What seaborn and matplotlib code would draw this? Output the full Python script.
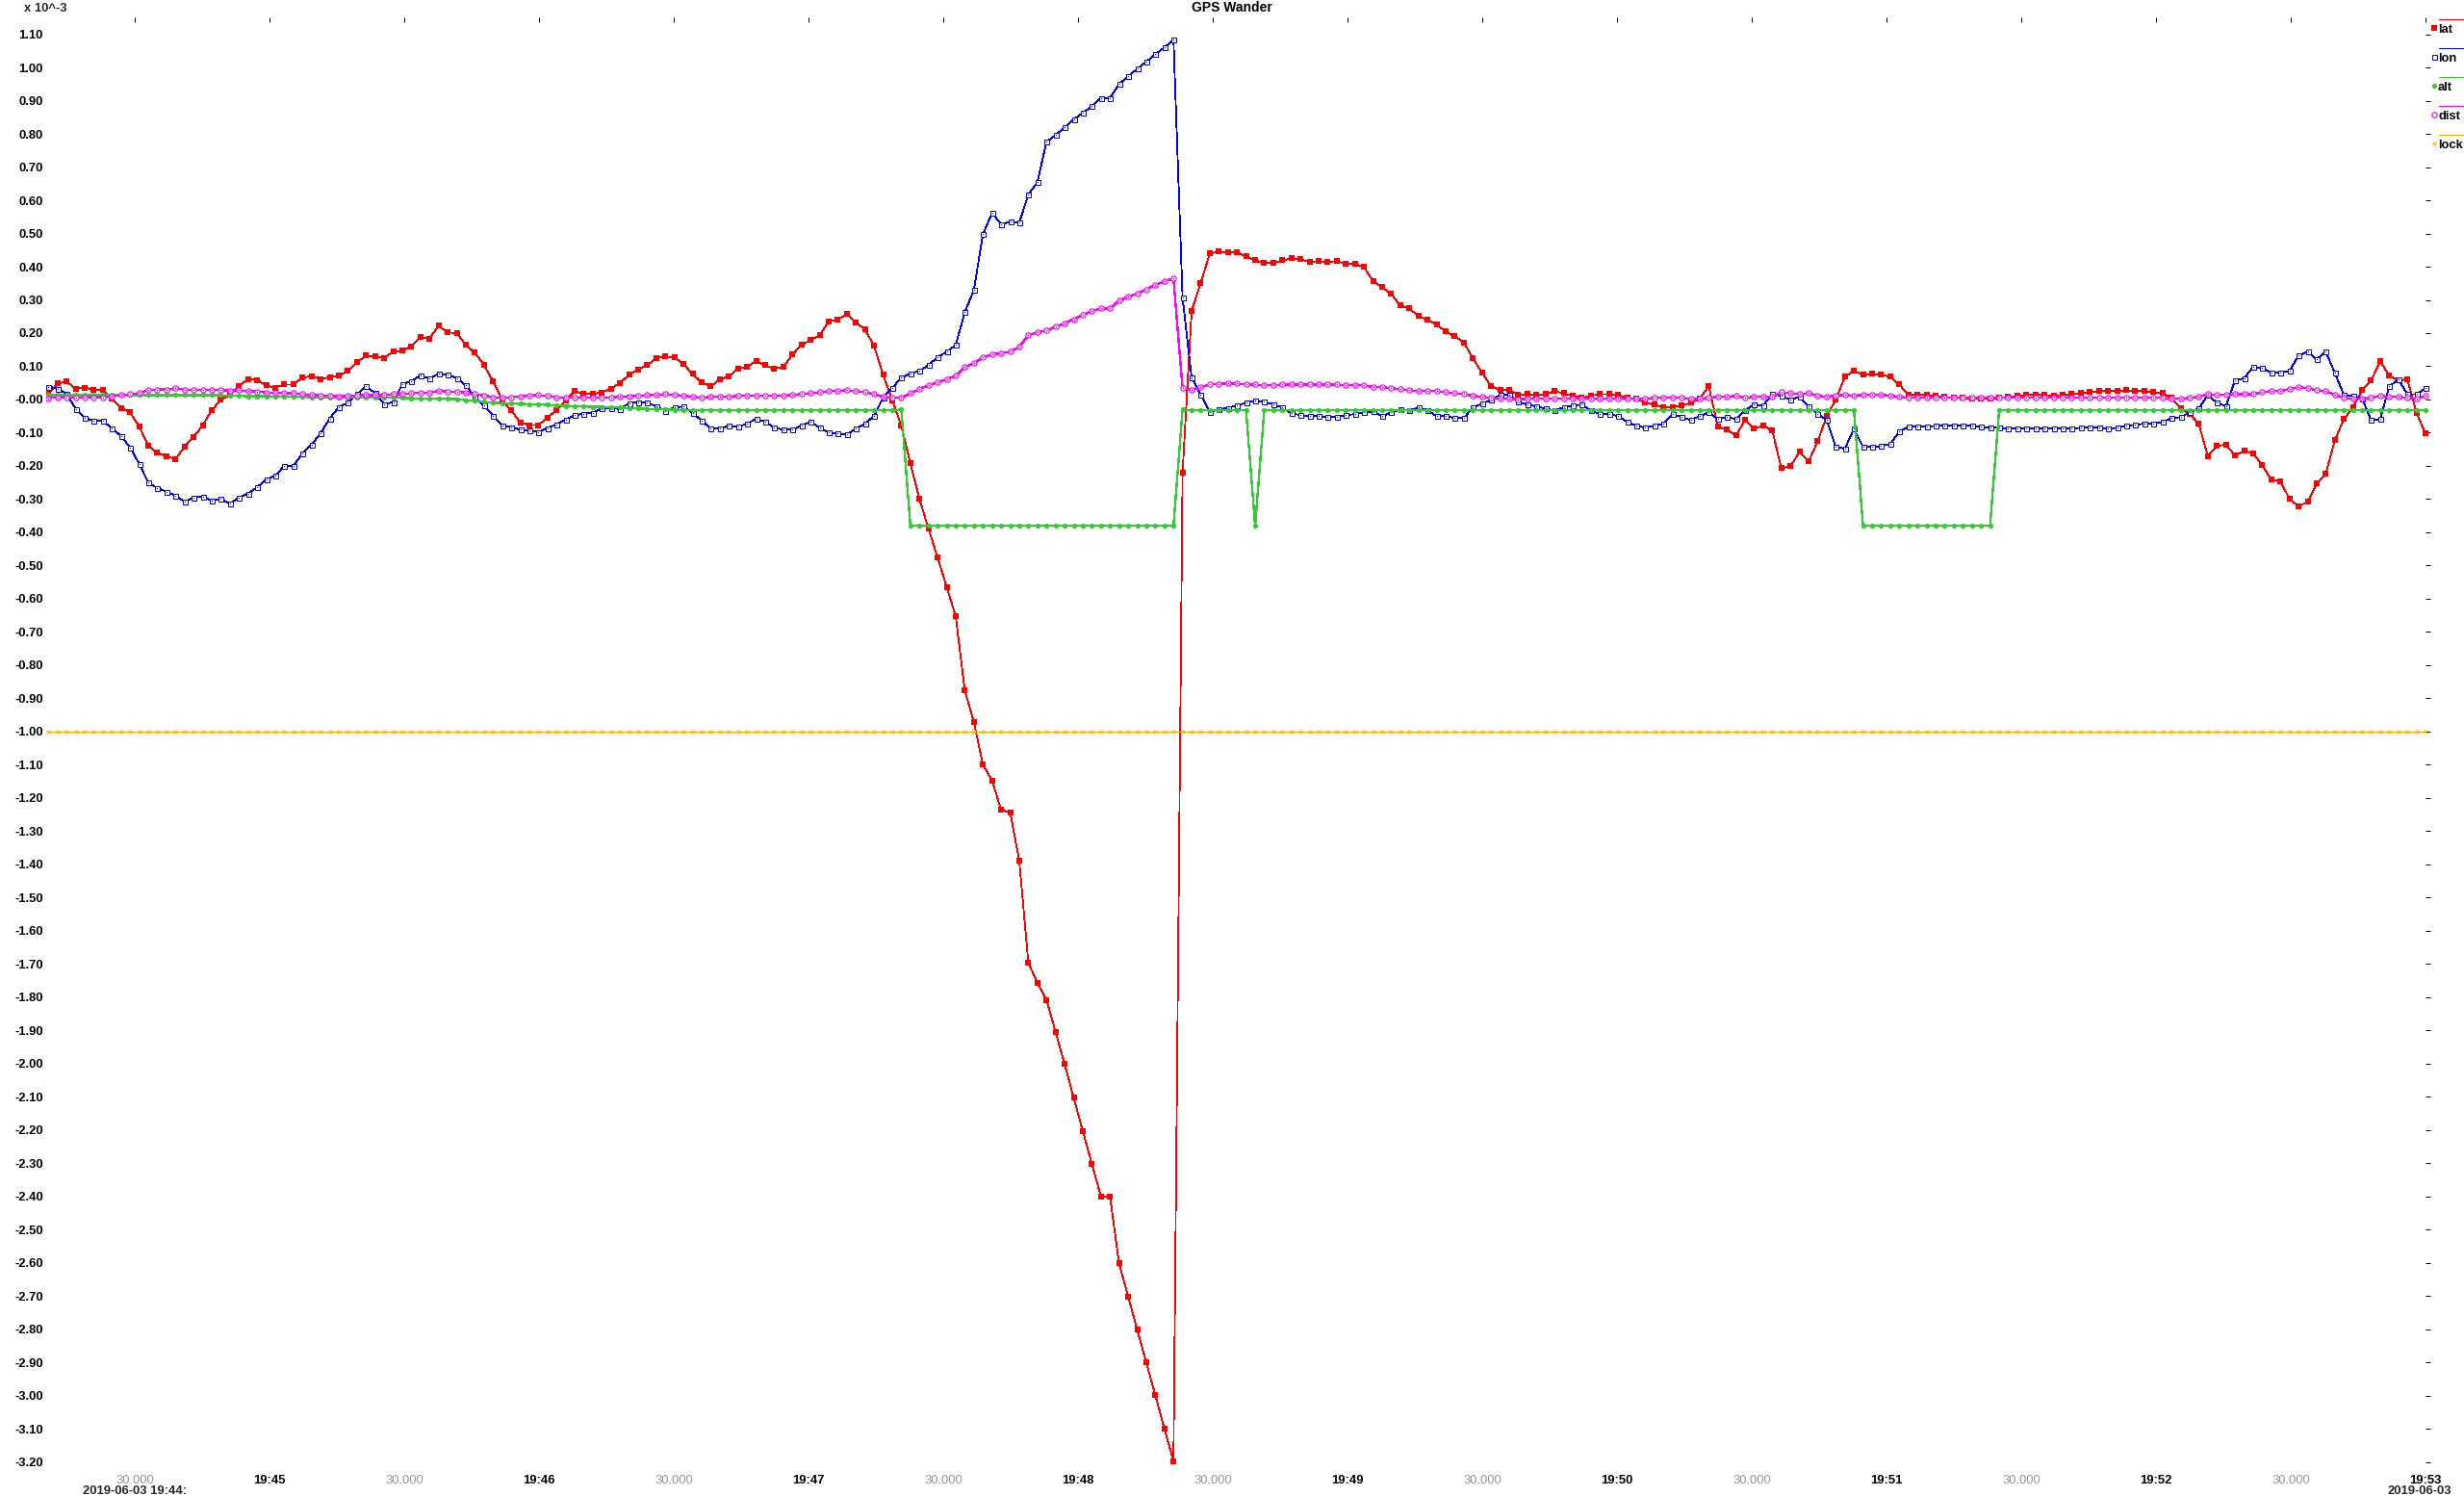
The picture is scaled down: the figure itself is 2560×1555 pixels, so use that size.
import numpy as np
import pandas as pd
import matplotlib
matplotlib.use("Agg")
import matplotlib.pyplot as plt
import matplotlib.dates as mdates
import seaborn as sns

# ---------------- data (units of 10^-3) ----------------
lat = [
    0.017, 0.048, 0.054, 0.033, 0.036, 0.030, 0.030, 0.002, -0.025, -0.039,
    -0.081, -0.139, -0.161, -0.170, -0.180, -0.142, -0.113, -0.078, -0.032, -0.001,
    0.015, 0.040, 0.062, 0.059, 0.042, 0.036, 0.045, 0.045, 0.066, 0.070,
    0.062, 0.067, 0.072, 0.086, 0.112, 0.132, 0.129, 0.126, 0.144, 0.147,
    0.160, 0.188, 0.184, 0.222, 0.202, 0.200, 0.164, 0.141, 0.104, 0.055,
    -0.001, -0.033, -0.069, -0.077, -0.077, -0.056, -0.031, -0.003, 0.025, 0.017,
    0.017, 0.021, 0.033, 0.050, 0.074, 0.091, 0.103, 0.125, 0.129, 0.127,
    0.106, 0.077, 0.051, 0.040, 0.060, 0.070, 0.093, 0.099, 0.115, 0.103,
    0.092, 0.099, 0.135, 0.164, 0.179, 0.193, 0.235, 0.240, 0.258, 0.231,
    0.211, 0.161, 0.074, -0.002, -0.079, -0.192, -0.300, -0.389, -0.476,
    -0.565, -0.653, -0.877, -0.972, -1.100, -1.147, -1.236, -1.244, -1.389, -1.696,
    -1.757, -1.808, -1.904, -2.001, -2.103, -2.203, -2.302, -2.400, -2.400, -2.602,
    -2.701, -2.801, -2.901, -2.999, -3.100, -3.198,
    -0.220, 0.267, 0.351, 0.440, 0.445, 0.443,
    0.443, 0.431, 0.419, 0.411, 0.411, 0.419, 0.425, 0.422, 0.414, 0.417,
    0.414, 0.417, 0.408, 0.408, 0.399, 0.356, 0.338, 0.318, 0.283, 0.274,
    0.251, 0.240, 0.225, 0.205, 0.190, 0.172, 0.124, 0.080, 0.040, 0.028,
    0.028, 0.014, 0.016, 0.014, 0.016, 0.025, 0.019, 0.011, 0.005, 0.011,
    0.016, 0.016, 0.014, 0.005, 0.002, -0.010, -0.015, -0.024, -0.024, -0.018,
    -0.010, 0.002, 0.040,
    -0.082, -0.091, -0.108, -0.062, -0.088, -0.079, -0.094, -0.207, -0.201, -0.158,
    -0.187, -0.126, -0.050, 0.000, 0.069, 0.086, 0.074, 0.077, 0.074, 0.069,
    0.045, 0.014, 0.014, 0.014, 0.011, 0.008, 0.005, 0.005, 0.002, 0.002,
    0.002, 0.005, 0.008, 0.011, 0.014, 0.014, 0.014, 0.011, 0.014, 0.016,
    0.019, 0.022, 0.025, 0.025, 0.025, 0.028, 0.025, 0.025, 0.022, 0.019,
    0.005, -0.027, -0.044,
    -0.073, -0.171, -0.140, -0.136, -0.169, -0.155, -0.162, -0.198, -0.242, -0.247,
    -0.299, -0.322, -0.308, -0.253, -0.224, -0.123, -0.059, -0.024, 0.028, 0.057,
    0.115, 0.072, 0.057, 0.061, -0.040, -0.103,
]

lon = [
    0.039, 0.033, 0.017, -0.028, -0.054, -0.065, -0.065, -0.086, -0.110, -0.144,
    -0.194, -0.250, -0.267, -0.277, -0.290, -0.308, -0.295, -0.293, -0.304, -0.300,
    -0.314, -0.295, -0.283, -0.264, -0.241, -0.229, -0.200, -0.200, -0.162, -0.136,
    -0.102, -0.057, -0.022, -0.010, 0.016, 0.040, 0.019, -0.014, -0.008, 0.046,
    0.056, 0.072, 0.063, 0.078, 0.074, 0.065, 0.043, 0.007, -0.018, -0.049,
    -0.078, -0.083, -0.091, -0.093, -0.098, -0.086, -0.075, -0.060, -0.047, -0.043,
    -0.040, -0.027, -0.025, -0.029, -0.011, -0.008, -0.010, -0.020, -0.034, -0.024,
    -0.021, -0.040, -0.064, -0.088, -0.088, -0.079, -0.082, -0.073, -0.058, -0.067,
    -0.085, -0.091, -0.091, -0.079, -0.067, -0.085, -0.100, -0.102, -0.105, -0.088,
    -0.073, -0.049, 0.006, 0.034, 0.066, 0.078, 0.086, 0.104, 0.127, 0.144,
    0.164, 0.263, 0.330, 0.498, 0.562, 0.528, 0.535, 0.533, 0.617, 0.654,
    0.776, 0.796, 0.820, 0.843, 0.863, 0.883, 0.908, 0.908, 0.950, 0.973,
    0.996, 1.017, 1.040, 1.060, 1.083, 0.306, 0.066, 0.014, -0.038,
    -0.030, -0.025,
    -0.018, -0.010, -0.004, -0.007, -0.015, -0.024, -0.042, -0.047, -0.050, -0.050,
    -0.053, -0.053, -0.047, -0.044, -0.039, -0.036, -0.050, -0.039, -0.030, -0.033,
    -0.024, -0.033, -0.050, -0.050, -0.056, -0.056, -0.024, -0.013, -0.001, 0.014,
    0.014, -0.007, -0.015, -0.021, -0.027, -0.033, -0.024, -0.018, -0.015, -0.033,
    -0.044, -0.044, -0.050, -0.068, -0.079, -0.085, -0.079, -0.073, -0.044, -0.053,
    -0.062, -0.050, -0.039,
    -0.059, -0.053, -0.059, -0.033, -0.015, -0.018, 0.016, 0.011, -0.001, 0.008,
    -0.021, -0.044, -0.062, -0.143, -0.148, -0.088, -0.143, -0.143, -0.140, -0.134,
    -0.097, -0.082, -0.082, -0.082, -0.079, -0.079, -0.079, -0.079, -0.079, -0.082,
    -0.085, -0.085, -0.088, -0.088, -0.088, -0.088, -0.088, -0.088, -0.088, -0.088,
    -0.085, -0.085, -0.085, -0.088, -0.085, -0.079, -0.076, -0.073, -0.073, -0.068,
    -0.056, -0.053, -0.039,
    -0.027, 0.014, -0.010, -0.020, 0.058, 0.064, 0.098, 0.095, 0.080, 0.080,
    0.086, 0.132, 0.144, 0.121, 0.144, 0.080, 0.014, 0.011, 0.003, -0.062,
    -0.059, 0.040, 0.060, 0.016, 0.016, 0.034,
]

alt = ([0.013] * 20 + [
    0.011, 0.011, 0.010, 0.010, 0.010, 0.009, 0.009, 0.008, 0.008, 0.007,
    0.006, 0.005, 0.005, 0.006, 0.007, 0.007, 0.007, 0.007, 0.006, 0.005,
    0.004, 0.003, 0.003, 0.002, 0.002, 0.001, -0.002, -0.004, -0.007, -0.010,
    -0.011, -0.012, -0.013, -0.014, -0.015, -0.016, -0.018, -0.019, -0.020, -0.021,
    -0.022, -0.022, -0.023, -0.024, -0.026, -0.027, -0.028, -0.029, -0.030, -0.031]
    + [-0.033] * 24 + [-0.030] + [-0.380] * 30 + [-0.030] + [-0.033] * 7
    + [-0.380] + [-0.033] * 66 + [-0.380] * 15 + [-0.033] * 48)

dist = [
    0.004, 0.007, 0.007, 0.005, 0.007, 0.007, 0.007, 0.009, 0.013, 0.016,
    0.019, 0.028, 0.030, 0.030, 0.034, 0.030, 0.028, 0.028, 0.028, 0.028,
    0.027, 0.028, 0.025, 0.024, 0.021, 0.020, 0.019, 0.019, 0.016, 0.014,
    0.012, 0.011, 0.009, 0.011, 0.012, 0.013, 0.013, 0.013, 0.016, 0.016,
    0.019, 0.021, 0.021, 0.026, 0.024, 0.024, 0.020, 0.016, 0.012, 0.007,
    0.005, 0.007, 0.009, 0.012, 0.013, 0.011, 0.007, 0.005, 0.005, 0.005,
    0.005, 0.005, 0.007, 0.008, 0.010, 0.011, 0.013, 0.014, 0.016, 0.014,
    0.011, 0.008, 0.005, 0.008, 0.008, 0.008, 0.011, 0.011, 0.011, 0.011,
    0.011, 0.011, 0.014, 0.016, 0.019, 0.022, 0.025, 0.025, 0.028, 0.025,
    0.022, 0.016, 0.008, 0.005, 0.005, 0.019, 0.031, 0.043, 0.051, 0.061,
    0.072, 0.098, 0.109, 0.127, 0.135, 0.140, 0.144, 0.158, 0.193, 0.202,
    0.208, 0.219, 0.229, 0.242, 0.254, 0.266, 0.274, 0.274, 0.298, 0.309,
    0.319, 0.331, 0.345, 0.356, 0.364,
    0.034, 0.028, 0.037, 0.045, 0.047, 0.048,
    0.048, 0.045, 0.045, 0.043, 0.043, 0.045, 0.045, 0.045, 0.045, 0.045,
    0.045, 0.045, 0.043, 0.043, 0.043, 0.037, 0.037, 0.034, 0.031, 0.028,
    0.025, 0.025, 0.025, 0.022, 0.019, 0.016, 0.011, 0.008, 0.005, 0.002,
    0.002, 0.001, 0.002, 0.002, 0.002, 0.002, 0.002, 0.002, 0.002, 0.002,
    0.002, 0.002, 0.002, 0.002, 0.002, 0.002, 0.005, 0.005, 0.005, 0.005,
    0.002, 0.002, 0.005,
    0.008, 0.008, 0.011, 0.005, 0.008, 0.008, 0.008, 0.022, 0.019, 0.016,
    0.019, 0.011, 0.008, 0.011, 0.014, 0.011, 0.014, 0.014, 0.014, 0.011,
    0.008] + [0.005] * 29 + [0.002, 0.002, 0.005,
    0.008, 0.016, 0.014, 0.014, 0.016, 0.016, 0.016, 0.022, 0.025, 0.025,
    0.031, 0.037, 0.034, 0.028, 0.025, 0.014, 0.005, 0.002, 0.002, 0.005,
    0.011, 0.008, 0.008, 0.005, 0.002, 0.011,
]

lock = [-1.00] * len(lat)

series_names = ["lat", "lon", "alt", "dist", "lock"]
series_colors = ["#ff0000", "#0000ff", "#33cc33", "#ff00ff", "#ffa500"]

start_time = "2019-06-03 19:44:10.800"
sample_ms = 2020

major_labels = ["19:45", "19:46", "19:47", "19:48", "19:49", "19:50", "19:51", "19:52", "19:53"]
minor_times = ["19:44:30", "19:45:30", "19:46:30", "19:47:30", "19:48:30",
               "19:49:30", "19:50:30", "19:51:30", "19:52:30"]
minor_label = "30.000"

ytick_labels = ["1.10", "1.00", "0.90", "0.80", "0.70", "0.60", "0.50", "0.40", "0.30",
                "0.20", "0.10", "-0.00", "-0.10", "-0.20", "-0.30", "-0.40", "-0.50",
                "-0.60", "-0.70", "-0.80", "-0.90", "-1.00", "-1.10", "-1.20", "-1.30",
                "-1.40", "-1.50", "-1.60", "-1.70", "-1.80", "-1.90", "-2.00", "-2.10",
                "-2.20", "-2.30", "-2.40", "-2.50", "-2.60", "-2.70", "-2.80", "-2.90",
                "-3.00", "-3.10", "-3.20"]

n = len(lat)
assert len(lon) == n and len(alt) == n and len(dist) == n, (len(lat), len(lon), len(alt), len(dist))

times = pd.date_range(start_time, periods=n, freq=f"{sample_ms}ms")
df = pd.DataFrame({"time": times, "lat": lat, "lon": lon, "alt": alt,
                   "dist": dist, "lock": lock})

# ---------------- figure ----------------
sns.set_style("white")
plt.rcParams["font.family"] = ["Liberation Sans", "DejaVu Sans"]

W, H = 2560, 1555
fig = plt.figure(figsize=(W / 100, H / 100), dpi=100)
fig.patch.set_facecolor("white")
ax_l, ax_r, ax_t, ax_b = 48, 2525, 18, 1530
ax = fig.add_axes([ax_l / W, 1 - ax_b / H, (ax_r - ax_l) / W, (ax_b - ax_t) / H])
ax.set_facecolor("white")

PX = 0.72  # points per pixel

common = dict(ax=ax, estimator=None, sort=False, legend=False, antialiased=False)
sns.lineplot(data=df, x="time", y="lat", color=series_colors[0], linewidth=0.8 * PX,
             marker="s", markersize=4.2, markerfacecolor=series_colors[0],
             markeredgecolor=series_colors[0], markeredgewidth=0, zorder=3, **common)
sns.lineplot(data=df, x="time", y="lon", color=series_colors[1], linewidth=0.8 * PX,
             marker="s", markersize=3.6, markerfacecolor="white",
             markeredgecolor=series_colors[1], markeredgewidth=1.0 * PX, zorder=4, **common)
sns.scatterplot(data=df, x="time", y="lon", color=series_colors[1], s=0.8,
                linewidth=0, ax=ax, zorder=4.1, legend=False)
sns.lineplot(data=df, x="time", y="alt", color=series_colors[2], linewidth=1.3 * PX,
             marker="o", markersize=3.8, markerfacecolor=series_colors[2],
             markeredgecolor=series_colors[2], markeredgewidth=0, zorder=5, **common)
sns.lineplot(data=df, x="time", y="dist", color=series_colors[3], linewidth=1.3 * PX,
             marker="o", markersize=3.8, markerfacecolor="white",
             markeredgecolor=series_colors[3], markeredgewidth=1.2 * PX, zorder=6, **common)
sns.scatterplot(data=df, x="time", y="dist", color=series_colors[3], marker="+", s=4,
                linewidth=0.8 * PX, ax=ax, zorder=6.1, legend=False)
sns.lineplot(data=df, x="time", y="lock", color=series_colors[4], linewidth=0.8 * PX,
             marker="x", markersize=3.0, markerfacecolor=series_colors[4],
             markeredgecolor=series_colors[4], markeredgewidth=0.9 * PX, zorder=7, **common)

# axis limits
t_left = times[0] - pd.Timedelta(milliseconds=500)
t_right = pd.Timestamp("2019-06-03 19:53:01.100")
ax.set_xlim(mdates.date2num(t_left), mdates.date2num(t_right))
ax.set_ylim(-3.233, 1.151)

# ticks
fs = 9.4
major_pos = [mdates.date2num(pd.Timestamp("2019-06-03 " + s + ":00")) for s in major_labels]
minor_pos = [mdates.date2num(pd.Timestamp("2019-06-03 " + s)) for s in minor_times]
ax.set_xticks(major_pos, major_labels, fontsize=fs, fontweight="bold", color="black")
ax.set_xticks(minor_pos, [minor_label] * len(minor_pos), minor=True,
              fontsize=fs, fontweight="normal", color="#999999")
ytick_vals = [float(s) for s in ytick_labels]
ax.set_yticks(ytick_vals, ytick_labels, fontsize=fs, fontweight="bold", color="black")
ax.set_yticks([], minor=True)

ax.tick_params(axis="both", which="both", direction="in", length=5 * PX, width=1 * PX,
               colors="black", top=True, right=True, labeltop=False, labelright=False)
ax.tick_params(axis="x", which="both", pad=1.2)
ax.tick_params(axis="y", which="both", pad=2.2)
for lbl in ax.get_xticklabels(minor=True):
    lbl.set_color("#999999")
ax.set_xlabel("")
ax.set_ylabel("")
for s in ax.spines.values():
    s.set_visible(False)

# ---------------- overlay for texts & legend (pixel coordinates) ----------------
ov = fig.add_axes([0, 0, 1, 1], zorder=10)
ov.set_xlim(0, W)
ov.set_ylim(H, 0)
ov.axis("off")

ov.text(W / 2, 8, "GPS Wander", ha="center", va="center", fontsize=10,
        fontweight="bold", color="black")
ov.text(25, 9, "x 10^-3", ha="left", va="center", fontsize=fs, fontweight="bold")
ov.text(140, 1549, "2019-06-03 19:44:", ha="center", va="center", fontsize=fs,
        fontweight="bold")
ov.text(2514, 1549, "2019-06-03", ha="center", va="center", fontsize=fs,
        fontweight="bold")

legend_style = [
    dict(marker="s", ms=4.2, mfc=series_colors[0], mec=series_colors[0], mew=0),
    dict(marker="s", ms=3.6, mfc="white", mec=series_colors[1], mew=1.0 * PX),
    dict(marker="o", ms=3.8, mfc=series_colors[2], mec=series_colors[2], mew=0),
    dict(marker="o", ms=3.8, mfc="white", mec=series_colors[3], mew=1.2 * PX),
    dict(marker="x", ms=3.0, mfc=series_colors[4], mec=series_colors[4], mew=0.9 * PX),
]
for k, (name, col, st) in enumerate(zip(series_names, series_colors, legend_style)):
    y0 = 20 + 30 * k
    ov.plot([2534, 2561], [y0, y0], color=col, lw=1.0 * PX, solid_capstyle="butt",
            antialiased=False)
    ov.plot([2528.5], [y0 + 9], linestyle="none", **st)
    ov.text(2533, y0 + 11, name, ha="left", va="center", fontsize=fs,
            fontweight="bold", color="black")

fig.savefig("out.png", dpi=100, facecolor="white")
